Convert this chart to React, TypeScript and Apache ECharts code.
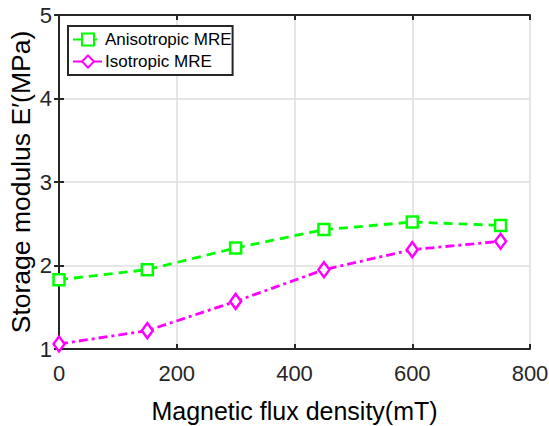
import React, { useEffect, useRef } from "react";
import * as echarts from "echarts";

const fluxDensity = [0, 150, 300, 450, 600, 750];
const anisotropic = [1.83, 1.95, 2.21, 2.43, 2.52, 2.48];
const isotropic = [1.06, 1.22, 1.57, 1.95, 2.19, 2.29];
const seriesNames = ["Anisotropic MRE", "Isotropic MRE"];
const xTitle = "Magnetic flux density(mT)";
const yTitle = "Storage modulus E\u2032(MPa)";

const FONT = "Liberation Sans, Arial, Helvetica, sans-serif";
const AX = "#262626";

export default function App() {
  const ref = useRef<HTMLDivElement>(null);
  useEffect(() => {
    const chart = echarts.init(ref.current!, null, { renderer: "svg" });
    const mk = (ys: number[]) => fluxDensity.map((x, i) => [x, ys[i]]);
    const tickInside = { show: true, inside: true, length: 5, lineStyle: { color: AX, width: 2 } };
    chart.setOption({
      animation: false,
      backgroundColor: "#fff",
      textStyle: { fontFamily: FONT },
      grid: { left: 59, right: 19, top: 15, bottom: 77, containLabel: false, outerBoundsMode: "none" },
      legend: {
        orient: "vertical",
        left: 68,
        top: 26,
        padding: [5, 1, 5, 4],
        itemGap: 5,
        itemWidth: 30,
        itemHeight: 15,
        borderColor: AX,
        borderWidth: 2,
        backgroundColor: "#fff",
        textStyle: { fontSize: 17, color: "#000", fontFamily: FONT, padding: [0, 0, 0, -3] },
        data: seriesNames,
      },
      xAxis: [
        {
          type: "value",
          min: 0,
          max: 800,
          interval: 200,
          name: xTitle,
          nameLocation: "middle",
          nameGap: 49,
          nameMoveOverlap: false,
          nameTextStyle: { fontSize: 25, color: "#000", fontFamily: FONT },
          axisLine: { show: true, onZero: false, lineStyle: { color: AX, width: 2 } },
          axisTick: tickInside,
          axisLabel: { fontSize: 22, color: AX, margin: 13, fontFamily: FONT },
          splitLine: { show: true, lineStyle: { color: "#dedede", width: 1.5 } },
        },
        {
          type: "value",
          position: "top",
          min: 0,
          max: 800,
          interval: 200,
          axisLine: { show: true, lineStyle: { color: AX, width: 2 } },
          axisTick: tickInside,
          axisLabel: { show: false },
          splitLine: { show: false },
        },
      ],
      yAxis: [
        {
          type: "value",
          min: 1,
          max: 5,
          interval: 1,
          name: yTitle,
          nameLocation: "middle",
          nameGap: 25,
          nameMoveOverlap: false,
          nameTextStyle: { fontSize: 26.5, color: "#000", fontFamily: FONT },
          axisLine: { show: true, onZero: false, lineStyle: { color: AX, width: 2 } },
          axisTick: tickInside,
          axisLabel: { fontSize: 22, color: AX, margin: 7, fontFamily: FONT },
          splitLine: { show: true, lineStyle: { color: "#dedede", width: 1.5 } },
        },
        {
          type: "value",
          position: "right",
          min: 1,
          max: 5,
          interval: 1,
          axisLine: { show: true, lineStyle: { color: AX, width: 2 } },
          axisTick: tickInside,
          axisLabel: { show: false },
          splitLine: { show: false },
        },
      ],
      series: [
        {
          name: seriesNames[0],
          type: "line",
          data: mk(anisotropic),
          symbol: "rect",
          symbolSize: 11,
          itemStyle: { color: "#fff", borderColor: "#00ff00", borderWidth: 2.5 },
          lineStyle: { color: "#00ff00", width: 2.8, type: [9, 6] },
          z: 3,
        },
        {
          name: seriesNames[1],
          type: "line",
          data: mk(isotropic),
          symbol: "diamond",
          symbolSize: [11, 15],
          itemStyle: { color: "#fff", borderColor: "#ff00ff", borderWidth: 2.5 },
          lineStyle: { color: "#ff00ff", width: 2.8, type: [9, 4, 3, 4] },
          z: 3,
        },
      ],
    });
    return () => chart.dispose();
  }, []);
  return (
    <div
      ref={ref}
      style={{ position: "fixed", left: 0, top: 0, width: 549, height: 426, background: "#fff" }}
    />
  );
}
